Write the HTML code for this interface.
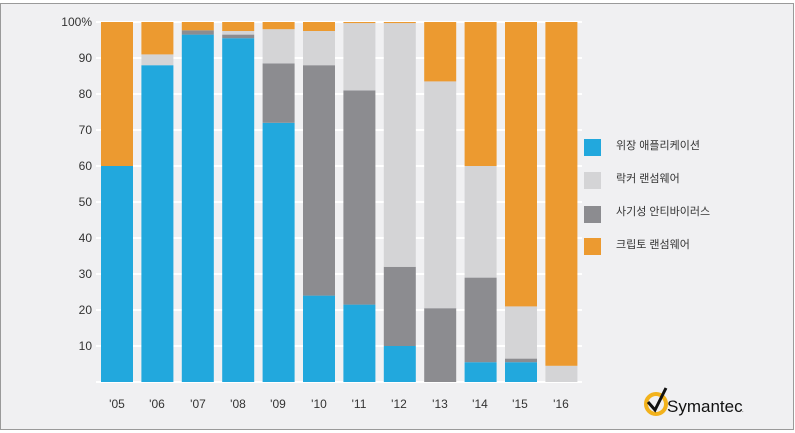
<!DOCTYPE html>
<html><head><meta charset="utf-8"><style>
html,body{margin:0;padding:0;background:#fff;}
svg{display:block;}
text{font-family:"Liberation Sans","Noto Sans CJK KR",sans-serif;fill:#333;}
</style></head><body>
<svg width="795" height="433" viewBox="0 0 795 433" xmlns="http://www.w3.org/2000/svg">
<rect x="0.5" y="3.5" width="793" height="426" fill="#f0f0f2" stroke="#9a9a9a"/>
<g stroke="#ffffff" stroke-width="2">
<line x1="96" x2="582" y1="22" y2="22"/><line x1="96" x2="582" y1="58" y2="58"/><line x1="96" x2="582" y1="94" y2="94"/>
<line x1="96" x2="582" y1="130" y2="130"/><line x1="96" x2="582" y1="166" y2="166"/><line x1="96" x2="582" y1="202" y2="202"/>
<line x1="96" x2="582" y1="238" y2="238"/><line x1="96" x2="582" y1="274" y2="274"/><line x1="96" x2="582" y1="310" y2="310"/>
<line x1="96" x2="582" y1="346" y2="346"/><line x1="96" x2="582" y1="382" y2="382"/>
</g>
<g font-size="12" text-anchor="end">
<text x="92" y="26">100%</text><text x="92" y="62">90</text><text x="92" y="98">80</text><text x="92" y="134">70</text>
<text x="92" y="170">60</text><text x="92" y="206">50</text><text x="92" y="242">40</text><text x="92" y="278">30</text>
<text x="92" y="314">20</text><text x="92" y="350">10</text>
</g>
<g id="bars"></g>
<g font-size="12" text-anchor="middle">
<text x="117" y="408">'05</text><text x="157" y="408">'06</text><text x="198" y="408">'07</text><text x="238" y="408">'08</text>
<text x="278" y="408">'09</text><text x="319" y="408">'10</text><text x="359" y="408">'11</text><text x="399" y="408">'12</text>
<text x="440" y="408">'13</text><text x="480" y="408">'14</text><text x="520" y="408">'15</text><text x="561" y="408">'16</text>
</g>
<rect x="584" y="139" width="17" height="17" fill="#22a8dd"/>
<rect x="584" y="172" width="17" height="17" fill="#d4d4d6"/>
<rect x="584" y="206" width="17" height="17" fill="#8c8c90"/>
<rect x="584" y="238" width="17" height="17" fill="#ec9a30"/>
<g font-size="11">
<text x="616" y="149">위장 애플리케이션</text>
<text x="616" y="182">락커 랜섬웨어</text>
<text x="616" y="215">사기성 안티바이러스</text>
<text x="616" y="248">크립토 랜섬웨어</text>
</g>
<circle cx="656" cy="404" r="10" fill="none" stroke="#f2b21c" stroke-width="4"/>
<path d="M648 402 L655 410 L666 388" fill="none" stroke="#111" stroke-width="3"/>
<text x="667" y="412" font-size="17" style="fill:#111">Symantec</text>
<text x="742" y="412" font-size="6" style="fill:#111">.</text>
</svg>
<script>
var d=[[60,0,0,40],[88,0,3,9],[96.5,1.2,0,2.3],[95.5,1,1,2.5],[72,16.5,9.5,2],[24,64,9.5,2.5],[21.5,59.5,18.7,0.3],[10,22,67.7,0.3],[0,20.5,63,16.5],[5.5,23.5,31,40],[5.5,1,14.5,79],[0,0,4.5,95.5]];
var c=["#22a8dd","#8c8c90","#d4d4d6","#ec9a30"],g=document.getElementById("bars"),s="";
d.forEach(function(r,i){var x=101+i*40.4,y=382;r.forEach(function(v,k){if(v<=0)return;var h=v*3.6;y-=h;s+='<rect x="'+x.toFixed(1)+'" y="'+y.toFixed(1)+'" width="32" height="'+h.toFixed(1)+'" fill="'+c[k]+'"/>';});});
g.innerHTML=s;
</script>
</body></html>
